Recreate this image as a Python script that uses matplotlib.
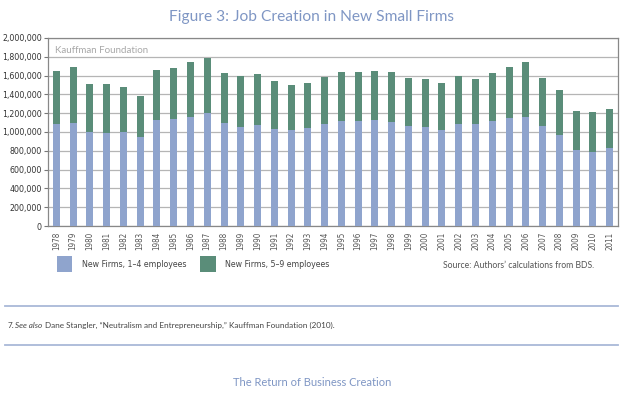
import matplotlib
matplotlib.use("Agg")
import matplotlib.pyplot as plt
from matplotlib import font_manager
from matplotlib.patches import Patch
import numpy as np

years = [str(y) for y in range(1978, 2012)]
firms_1_4 = [1087000, 1101000, 998000, 988000, 998000, 948000, 1130000, 1140000,
             1162000, 1201000, 1091000, 1055000, 1076000, 1034000, 1023000, 1044000,
             1080000, 1115000, 1115000, 1130000, 1105000, 1069000, 1048000, 1023000,
             1080000, 1080000, 1115000, 1151000, 1162000, 1059000, 973000, 810000,
             785000, 831000]
totals = [1645000, 1691000, 1506000, 1506000, 1481000, 1385000, 1659000, 1684000,
          1744000, 1790000, 1623000, 1599000, 1613000, 1542000, 1496000, 1520000,
          1588000, 1638000, 1638000, 1648000, 1638000, 1577000, 1563000, 1520000,
          1599000, 1563000, 1627000, 1694000, 1744000, 1577000, 1446000, 1222000,
          1211000, 1243000]
firms_5_9 = [t - a for t, a in zip(totals, firms_1_4)]

blue = "#8fa4cd"
green = "#5a8d79"
title_col = "#7f96c4"

plt.rcParams["font.family"] = ["Lato", "DejaVu Sans"]
tick_font = font_manager.FontProperties(family="DejaVu Sans", stretch="condensed", size=6.3)
xtick_font = font_manager.FontProperties(family="DejaVu Sans", stretch="condensed", size=5.8)
leg_font = font_manager.FontProperties(family="DejaVu Sans", stretch="condensed", size=6.3)

W, H = 623, 394
fig = plt.figure(figsize=(W / 100, H / 100), dpi=100)
ax = fig.add_axes([48 / W, (H - 226) / H, 570 / W, 188 / H])

x = np.arange(len(years))
ax.bar(x, firms_1_4, width=0.42, color=blue, zorder=3)
ax.bar(x, firms_5_9, width=0.42, bottom=firms_1_4, color=green, zorder=3)

ax.set_xlim(-0.5, len(years) - 0.5)
ax.set_ylim(0, 2000000)
ax.set_yticks(np.arange(0, 2000001, 200000))
ax.set_yticklabels([f"{v:,}" for v in range(0, 2000001, 200000)],
                   fontproperties=tick_font, color="#333333")
ax.set_xticks(x)
ax.set_xticklabels(years, rotation=90, fontproperties=xtick_font, color="#555555")
ax.tick_params(axis="y", length=3, color="#777777", pad=1.5)
ax.tick_params(axis="x", length=0, pad=4)
ax.grid(axis="y", color="#b5b5b5", linewidth=0.9, zorder=0)
for s in ax.spines.values():
    s.set_color("#888888")
    s.set_linewidth(0.9)

ax.text(0.012, 0.935, "Kauffman Foundation", transform=ax.transAxes,
        fontsize=7, color="#a8a8a8", va="center", ha="left")

fig.text(0.5, 1 - 17 / H, "Figure 3: Job Creation in New Small Firms",
         ha="center", va="center", fontsize=11.2, color=title_col)

handles = [Patch(facecolor=blue, label="New Firms, 1\u20134 employees"),
           Patch(facecolor=green, label="New Firms, 5\u20139 employees")]
fig.legend(handles=handles, loc="center left", bbox_to_anchor=(49 / W, 1 - 264 / H),
           ncol=2, frameon=False, handlelength=1.75, handleheight=2.3,
           columnspacing=1.6, handletextpad=1.1, prop=leg_font,
           labelcolor="#444444")

fig.text(594 / W, 1 - 265 / H, "Source: Authors\u2019 calculations from BDS.",
         ha="right", va="center", fontsize=6.2, color="#555555")

line_col = "#a9b9d8"
for yy in (306, 345):
    fig.add_artist(plt.Line2D([5 / W, 618 / W], [1 - yy / H, 1 - yy / H],
                              color=line_col, linewidth=1.3))

fy = 1 - 325 / H
fig.text(8 / W, fy, "7.", ha="left", va="center", fontsize=5.9, color="#444444")
fig.text(15 / W, fy, "See also", ha="left", va="center", fontsize=5.9, color="#444444",
         fontstyle="italic")
fig.text(45 / W, fy, "Dane Stangler, \u201cNeutralism and Entrepreneurship,\u201d Kauffman Foundation (2010).",
         ha="left", va="center", fontsize=5.9, color="#444444")

fig.text(312 / W, 1 - 383 / H, "The Return of Business Creation",
         ha="center", va="center", fontsize=8, color=title_col)

fig.savefig("out.png", dpi=100)
